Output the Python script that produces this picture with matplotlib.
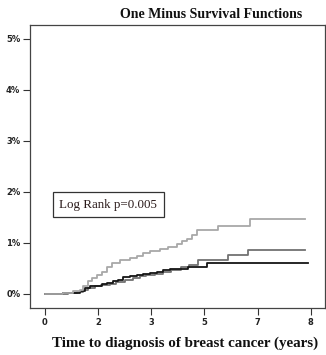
"""One minus survival functions, time to breast cancer diagnosis."""

import matplotlib

matplotlib.use("Agg")
import matplotlib.pyplot as plt

# years since start, cumulative incidence in percent
light_t = [0, 0.55, 0.85, 1.05, 1.15, 1.30, 1.41, 1.56, 1.71, 1.86, 2.01, 2.26,
           2.56, 2.76, 2.96, 3.16, 3.46, 3.71, 3.97, 4.12, 4.27, 4.42, 4.57,
           5.22, 6.17, 7.83]
light_y = [0, 0.02, 0.05, 0.08, 0.15, 0.25, 0.31, 0.38, 0.44, 0.53, 0.61, 0.67,
           0.71, 0.75, 0.80, 0.85, 0.88, 0.93, 0.97, 1.03, 1.08, 1.16, 1.25,
           1.33, 1.47, 1.47]

mid_t = [0, 0.70, 0.95, 1.15, 1.30, 1.50, 1.70, 1.95, 2.15, 2.40, 2.65, 2.85,
         3.05, 3.30, 3.55, 3.80, 4.10, 4.35, 4.62, 5.52, 6.12, 7.83]
mid_y = [0, 0.01, 0.03, 0.08, 0.12, 0.15, 0.18, 0.20, 0.24, 0.28, 0.31, 0.35,
         0.38, 0.40, 0.44, 0.47, 0.52, 0.57, 0.67, 0.77, 0.87, 0.87]

black_t = [0, 0.55, 0.85, 1.05, 1.20, 1.36, 1.56, 1.71, 1.86, 2.06, 2.21, 2.36,
           2.56, 2.76, 2.96, 3.16, 3.36, 3.56, 3.77, 4.32, 4.87, 7.93]
black_y = [0, 0.01, 0.02, 0.05, 0.12, 0.15, 0.16, 0.20, 0.22, 0.25, 0.28, 0.33,
           0.35, 0.37, 0.40, 0.42, 0.44, 0.46, 0.49, 0.53, 0.61, 0.61]

xtick_pos = [0, 1.6, 3.2, 4.8, 6.4, 8.0]
xtick_labels = ["0", "2", "3", "5", "7", "8"]
ytick_pos = [0, 1, 2, 3, 4, 5]
ytick_labels = ["0%", "1%", "2%", "3%", "4%", "5%"]

fig = plt.figure(figsize=(3.26, 3.55), dpi=100)
ax = fig.add_axes([0.092, 0.1324, 0.905, 0.797])

ax.step(mid_t, mid_y, where="post", color="#727272", lw=1.3)
ax.step(black_t, black_y, where="post", color="#151515", lw=1.3)
ax.step(light_t, light_y, where="post", color="#a8a8a8", lw=1.3)

ax.set_xlim(-0.45, 8.43)
ax.set_ylim(-0.275, 5.27)
ax.set_xticks(xtick_pos, xtick_labels)
ax.set_yticks(ytick_pos, ytick_labels)
ax.tick_params(direction="out", length=5, width=0.8, color="#333333",
               labelsize=6, labelcolor="#222222", pad=2)
for label in ax.get_xticklabels() + ax.get_yticklabels():
    label.set_fontweight("bold")
for spine in ax.spines.values():
    spine.set_color("#444444")
    spine.set_linewidth(0.9)

ax.text(1.9, 1.75, "Log Rank p=0.005", family="Liberation Serif", fontsize=9.4,
        color="#2a1a1a", ha="center", va="center",
        bbox=dict(boxstyle="square,pad=0.5", fc="white", ec="#333333", lw=0.9))

fig.text(0.647, 0.958, "One Minus Survival Functions", family="Liberation Serif",
         fontweight="bold", fontsize=10, ha="center", va="center", color="#111111")
fig.text(0.568, 0.034, "Time to diagnosis of breast cancer (years)",
         family="Liberation Serif", fontweight="bold", fontsize=10.8,
         ha="center", va="center", color="#111111")

fig.savefig("out.png", dpi=100)
